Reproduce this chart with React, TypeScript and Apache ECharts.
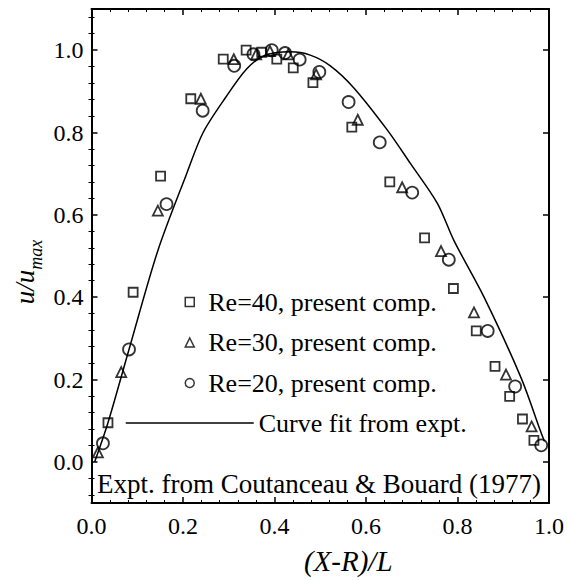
import React, { useEffect, useRef } from "react";
import * as echarts from "echarts";

// Re=40 (squares)
const re40: number[][] = [
  [0.036, 0.095], [0.091, 0.412], [0.151, 0.694], [0.217, 0.882], [0.288, 0.978],
  [0.338, 1.0], [0.372, 0.995], [0.405, 0.978], [0.441, 0.957], [0.484, 0.921],
  [0.569, 0.813], [0.652, 0.68], [0.728, 0.544], [0.791, 0.421], [0.841, 0.318],
  [0.882, 0.232], [0.914, 0.159], [0.942, 0.104], [0.967, 0.052],
];
// Re=30 (triangles)
const re30: number[][] = [
  [0.014, 0.023], [0.065, 0.218], [0.145, 0.61], [0.239, 0.882], [0.311, 0.978],
  [0.36, 0.99], [0.39, 0.998], [0.43, 0.99], [0.491, 0.941], [0.582, 0.831],
  [0.679, 0.667], [0.764, 0.512], [0.836, 0.363], [0.906, 0.212], [0.962, 0.086],
];
// Re=20 (circles)
const re20: number[][] = [
  [0.025, 0.045], [0.082, 0.273], [0.164, 0.626], [0.243, 0.853], [0.312, 0.962],
  [0.354, 0.99], [0.394, 1.0], [0.423, 0.993], [0.455, 0.977], [0.498, 0.947],
  [0.562, 0.874], [0.63, 0.776], [0.701, 0.654], [0.781, 0.491], [0.866, 0.318],
  [0.926, 0.183], [0.983, 0.04],
];
// Curve fit from experiment
const curveFit: number[][] = [
  [0.007, 0.0], [0.036, 0.095], [0.082, 0.273], [0.145, 0.513], [0.208, 0.7],
  [0.244, 0.8], [0.295, 0.888], [0.339, 0.954], [0.376, 0.986], [0.434, 0.996],
  [0.478, 0.988], [0.522, 0.962], [0.573, 0.909], [0.646, 0.807], [0.697, 0.725],
  [0.756, 0.628], [0.792, 0.538], [0.858, 0.4], [0.939, 0.204], [0.982, 0.073],
  [0.99, 0.05],
];

const yMajorTicks = [0, 0.2, 0.4, 0.6, 0.8, 1.0];
const yMinorTicks = [
  -0.08, -0.04, 0.04, 0.08, 0.12, 0.16, 0.24, 0.28, 0.32, 0.36, 0.44, 0.48, 0.52,
  0.56, 0.64, 0.68, 0.72, 0.76, 0.84, 0.88, 0.92, 0.96, 1.04, 1.08,
];

const FONT = "Liberation Serif";
const BLACK = "#000";

export default function App() {
  const ref = useRef<HTMLDivElement>(null);
  useEffect(() => {
    if (!ref.current) return;
    const chart = echarts.init(ref.current, undefined, { renderer: "svg" });
    const axisLine = { show: true, onZero: false, lineStyle: { color: BLACK, width: 2 } };
    const majorTick = { show: true, inside: true, length: 6, lineStyle: { color: BLACK, width: 1.5 } };
    const minorTick = { show: true, splitNumber: 5, length: 3, lineStyle: { color: BLACK, width: 1 } };
    const tickLabel = {
      color: BLACK,
      fontFamily: FONT,
      fontSize: 24,
      fontStyle: "normal",
      formatter: (v: number) => `{v|${v.toFixed(1)}}`,
      rich: { v: { fontFamily: FONT, fontSize: 24, color: BLACK } },
    };
    const markerStyle = { color: "rgba(0,0,0,0)", borderColor: BLACK, borderWidth: 1.8 };
    const legendText = { color: BLACK, fontFamily: FONT, fontSize: 26, lineHeight: 26 };

    chart.setOption({
      animation: false,
      backgroundColor: "#fff",
      textStyle: { fontFamily: FONT },
      grid: { left: 91.5, right: 17, top: 9, bottom: 77, containLabel: false },
      xAxis: [
        {
          type: "value", min: 0, max: 1, interval: 0.2, position: "bottom",
          axisLine, axisTick: majorTick, minorTick,
          axisLabel: { ...tickLabel, margin: 11 },
          splitLine: { show: false },
          name: "(X-R)/L", nameLocation: "middle", nameGap: 43,
          nameTextStyle: {
            color: BLACK, fontFamily: FONT, fontSize: 29, fontStyle: "italic",
            padding: [0, 0, 0, 56],
          },
        },
        {
          type: "value", min: 0, max: 1, interval: 0.2, position: "top",
          axisLine, axisTick: majorTick, minorTick,
          axisLabel: { show: false }, splitLine: { show: false },
        },
      ],
      yAxis: [
        {
          type: "value", min: -0.1, max: 1.1, position: "left",
          axisLine,
          axisTick: { ...majorTick, customValues: yMajorTicks },
          axisLabel: { ...tickLabel, margin: 8, customValues: yMajorTicks },
          splitLine: { show: false },
        },
        {
          type: "value", min: -0.1, max: 1.1, position: "left",
          axisLine: { show: false },
          axisTick: { show: true, inside: true, length: 3, lineStyle: { color: BLACK, width: 1 }, customValues: yMinorTicks },
          axisLabel: { show: false }, splitLine: { show: false },
        },
        {
          type: "value", min: -0.1, max: 1.1, position: "right",
          axisLine,
          axisTick: { ...majorTick, customValues: yMajorTicks },
          axisLabel: { show: false }, splitLine: { show: false },
        },
        {
          type: "value", min: -0.1, max: 1.1, position: "right",
          axisLine: { show: false },
          axisTick: { show: true, inside: true, length: 3, lineStyle: { color: BLACK, width: 1 }, customValues: yMinorTicks },
          axisLabel: { show: false }, splitLine: { show: false },
        },
      ],
      legend: [
        {
          data: ["Re=40, present comp.", "Re=30, present comp.", "Re=20, present comp."],
          orient: "vertical", left: 179.5, top: 284,
          itemWidth: 9, itemHeight: 9, itemGap: 14.5,
          itemStyle: { color: "rgba(0,0,0,0)", borderColor: BLACK, borderWidth: 1.5 },
          textStyle: { ...legendText, padding: [0, 0, 0, 9] },
          selectedMode: false,
        },
        {
          data: ["Curve fit from expt."],
          orient: "vertical", left: 120, top: 405,
          itemWidth: 128, itemHeight: 14,
          itemStyle: { color: "rgba(0,0,0,0)", borderWidth: 0, opacity: 0 },
          lineStyle: { color: BLACK, width: 1.5 },
          textStyle: legendText,
          selectedMode: false,
        },
      ],
      graphic: [
        {
          type: "text", x: 97, y: 484,
          style: {
            text: "Expt. from Coutanceau & Bouard (1977)",
            fill: BLACK, font: `27px "${FONT}"`, verticalAlign: "middle", align: "left",
          },
        },
        {
          type: "text", x: 28, y: 272, rotation: Math.PI / 2,
          style: {
            text: "{a|u/u}{b|max}",
            align: "center", verticalAlign: "middle",
            rich: {
              a: { fill: BLACK, font: `italic 27px "${FONT}"`, verticalAlign: "top" },
              b: { fill: BLACK, font: `italic 18px "${FONT}"`, verticalAlign: "bottom", padding: [16, 0, 0, 0] },
            },
          },
        },
      ],
      series: [
        {
          name: "Curve fit from expt.", type: "line", data: curveFit,
          xAxisIndex: 0, yAxisIndex: 0,
          showSymbol: false, symbol: "none", smooth: 0.3,
          lineStyle: { color: BLACK, width: 1.5 }, itemStyle: { color: BLACK },
          z: 1,
        },
        {
          name: "Re=40, present comp.", type: "scatter", data: re40, symbol: "rect", symbolSize: 9,
          xAxisIndex: 0, yAxisIndex: 0, itemStyle: markerStyle, z: 3,
        },
        {
          name: "Re=30, present comp.", type: "scatter", data: re30, symbol: "triangle", symbolSize: 10,
          xAxisIndex: 0, yAxisIndex: 0, itemStyle: markerStyle, z: 3,
        },
        {
          name: "Re=20, present comp.", type: "scatter", data: re20, symbol: "circle", symbolSize: 12,
          xAxisIndex: 0, yAxisIndex: 0, itemStyle: markerStyle, z: 3,
        },
      ],
    });
    return () => chart.dispose();
  }, []);
  return (
    <div
      ref={ref}
      style={{ position: "fixed", left: 0, top: 0, width: 567, height: 580, background: "#fff" }}
    />
  );
}
